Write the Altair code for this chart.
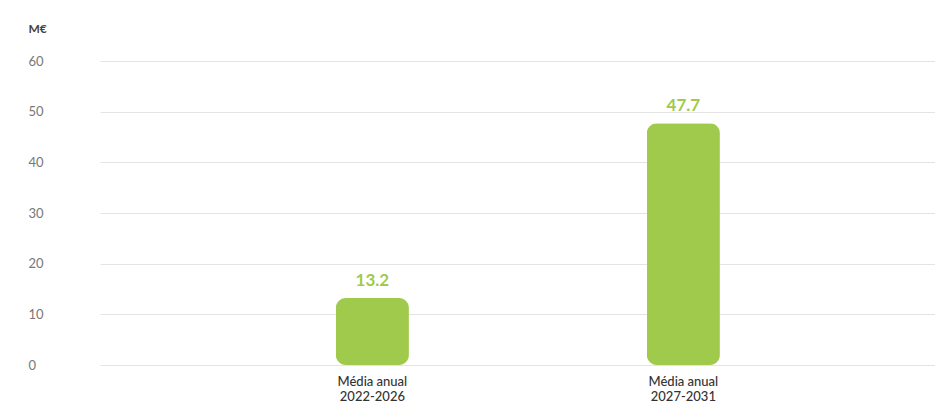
import altair as alt
import pandas as pd

categories = ["Média anual\n2022-2026", "Média anual\n2027-2031"]
values = [13.2, 47.7]
labels = ["13.2", "47.7"]

df = pd.DataFrame({"cat": categories, "val": values, "lbl": labels})

GREEN = "#9fca4b"
FONT = "Lato"

x = alt.X("cat:N", sort=categories, title=None,
          scale=alt.Scale(paddingInner=0.765, paddingOuter=0.725, align=0.523),
          axis=alt.Axis(labelAngle=0, labelExpr="split(datum.label, '\\n')",
                        labelFontSize=13, labelColor="#333333", labelFont=FONT,
                        labelFontWeight=500, labelPadding=10, labelLineHeight=15,
                        ticks=False, domain=False, grid=False))

bars = alt.Chart(df).mark_bar(cornerRadius=10, color=GREEN).encode(
    x=x,
    y=alt.Y("val:Q", scale=alt.Scale(domain=[0, 60]),
            axis=alt.Axis(values=[0, 10, 20, 30, 40, 50, 60], title="M€",
                          titleAngle=0, titleX=-72, titleY=-33, titleAlign="left",
                          titleBaseline="middle", titleFontSize=12, titleFont=FONT,
                          titleFontWeight="bold", titleColor="#444444",
                          labelAlign="left", labelPadding=72, labelFontSize=13,
                          labelFont=FONT, labelColor="#777777",
                          ticks=False, domain=False, grid=True,
                          gridColor="#e4e4e4", gridWidth=1)),
)

text = alt.Chart(df).mark_text(dy=-8, fontSize=17, fontWeight="bold", font=FONT,
                               color=GREEN, baseline="bottom").encode(
    x=alt.X("cat:N", sort=categories),
    y="val:Q",
    text="lbl:N",
)

chart = alt.layer(bars, text).properties(
    width=835, height=304,
    autosize=alt.AutoSizeParams(type="none"),
    padding={"left": 92, "top": 53, "right": 0, "bottom": 45},
).configure_view(stroke=None)

chart.save("out.html", embed_options={"renderer": "svg", "actions": False})
